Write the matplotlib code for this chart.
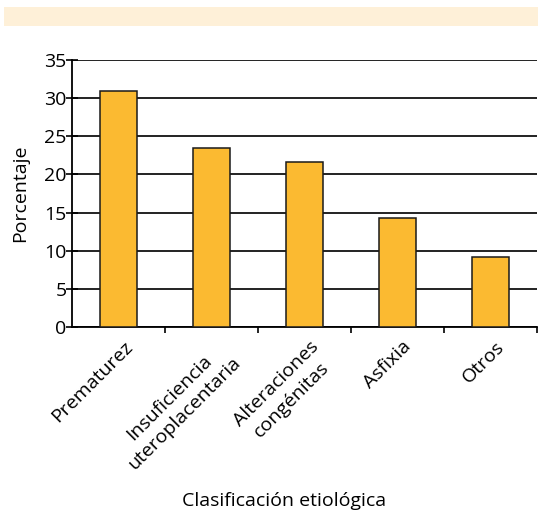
import matplotlib
matplotlib.use("Agg")
import matplotlib.pyplot as plt
from matplotlib.patches import Rectangle

plt.rcParams['font.family'] = ['Open Sans', 'DejaVu Sans']

categorias = ["Prematurez", "Insuficiencia\nuteroplacentaria",
              "Alteraciones\ncongénitas", "Asfixia", "Otros"]
porcentajes = [30.9, 23.5, 21.6, 14.3, 9.2]
yticks = [0, 5, 10, 15, 20, 25, 30, 35]

fig = plt.figure(figsize=(5.38, 5.15), dpi=100)

# franja de color en la cabecera
fig.patches.append(Rectangle((0.0074, 0.9495), 0.9926, 0.0369,
                             transform=fig.transFigure, facecolor='#FEF0D8',
                             edgecolor='none', zorder=0))

ax = fig.add_axes([0.1338, 0.365, 0.8645, 0.5185])
x = range(len(categorias))
ax.bar(x, porcentajes, width=0.4, color='#FBBA31', edgecolor='#1a1a1a',
       linewidth=1.1, zorder=3)

ax.set_xlim(-0.5, len(categorias) - 0.5)
ax.set_ylim(0, 35)
ax.set_yticks(yticks)
ax.yaxis.grid(True, color='#111111', linewidth=1.3, zorder=0)
ax.set_axisbelow(True)

# marcas del eje x entre categorías
ax.set_xticks([i + 0.5 for i in x])
ax.set_xticklabels([])
ax.tick_params(axis='x', direction='out', length=4, width=1.2)
ax.tick_params(axis='y', direction='inout', length=8, width=1.2,
               labelsize=14, pad=0)

for i, c in zip(x, categorias):
    ax.text(i + 0.05, -1.4, c, rotation=45, ha='right', va='top',
            rotation_mode='anchor', multialignment='center', fontsize=14,
            linespacing=1.3, transform=ax.transData)

for s in ['top', 'right']:
    ax.spines[s].set_visible(False)
ax.spines['left'].set_linewidth(1.3)
ax.spines['bottom'].set_linewidth(1.3)

ax.set_ylabel("Porcentaje", fontsize=14, labelpad=11)
fig.text(0.528, 0.028, "Clasificación etiológica", ha='center', va='center',
         fontsize=14)

fig.savefig("out.png", dpi=100)
